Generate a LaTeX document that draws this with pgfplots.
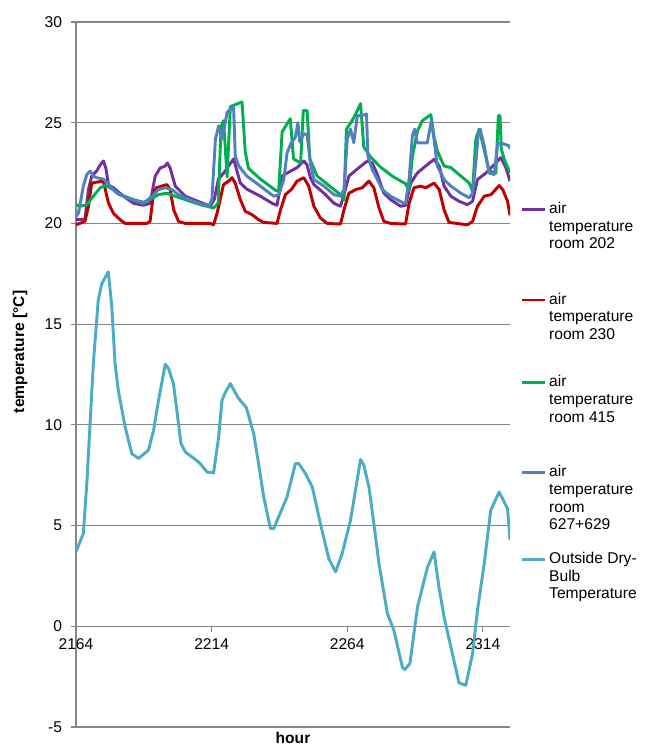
\documentclass[border=0pt]{standalone}
\usepackage{pgfplots}
\pgfplotsset{compat=1.18}
\usepackage{fontspec}
\setmainfont{Liberation Sans}

\definecolor{cPurple}{HTML}{7030A0}
\definecolor{cRed}{HTML}{C00000}
\definecolor{cGreen}{HTML}{00B050}
\definecolor{cBlue}{HTML}{4F81BD}
\definecolor{cAqua}{HTML}{4BACC6}
\definecolor{cGrid}{HTML}{868686}

\newcommand{\lfont}{\fontsize{11.7}{13.3}\selectfont}
% legend text: baseline on the first line, extra room above it
\newcommand{\lentry}[2]{\begin{tabular}[t]{@{}l@{}}\rule{0pt}{#2}#1\end{tabular}}

\begin{document}
\begin{tikzpicture}
\begin{axis}[
    name=main,
    at={(0,0)}, anchor=south west,
    scale only axis,
    width=325.5pt, height=528.75pt,
    xmin=2164, xmax=2324,
    ymin=-5, ymax=30,
    xtick={2164,2214,2264,2314},
    ytick={-5,0,5,10,15,20,25,30},
    axis x line=middle,
    axis y line=left,
    axis line style={-, cGrid, line width=0.8pt},
    hide obscured x ticks=false,
    hide obscured y ticks=false,
    tick align=outside,
    major tick length=4pt,
    tick style={cGrid, line width=0.8pt},
    ymajorgrids=true,
    grid style={cGrid, line width=0.8pt},
    /pgf/number format/assume math mode=true,
    /pgf/number format/1000 sep={},
    ticklabel style={font=\lfont},
    yticklabel style={xshift=-3pt},
    xticklabel style={yshift=-2pt},
    xlabel={\textbf{hour}},
    ylabel={\textbf{temperature [°C]}},
    label style={font=\lfont},
    xlabel style={at={(axis description cs:0.5,0)}, anchor=base, yshift=-12.5pt},
    ylabel style={at={(axis description cs:-0.129,0.532)}, anchor=center},
    legend style={draw=none, fill=none, at={(axis description cs:1,1)}, anchor=north west,
        xshift=8pt, yshift=-132pt, font=\lfont, inner sep=0pt,
        cells={anchor=base west}, row sep=12pt},
    legend image code/.code={\draw[#1, line width=2.2pt] (0pt,0.3em) -- (17pt,0.3em);},
    every axis plot/.append style={line width=2.2pt, line join=round, no marks},
]
\addplot[cPurple] coordinates {
(2164,20.2) (2167.3,20.2) (2168.6,21.7) (2169.8,22.35) (2171.6,22.6) (2172.9,22.9)
(2174.1,23.1) (2175,22.75) (2176,21.9) (2177.8,21.77) (2181.5,21.35) (2185.2,21.0)
(2188.9,20.9) (2191.3,21.0) (2193.2,22.35) (2195,22.75) (2196.9,22.85) (2197.7,23.0)
(2198.7,22.75) (2200.6,21.85) (2204.3,21.35) (2213.5,20.85) (2215,21.2) (2216.5,22.2)
(2218.4,22.5) (2222.1,23.2) (2224.6,22.0) (2227,21.7) (2232,21.35) (2236.3,21.0)
(2238.1,20.9) (2240,22.35) (2241.8,22.5) (2245.5,22.77) (2248,23.1) (2249.2,22.9)
(2250.4,22.27) (2251.7,21.93) (2255.4,21.5) (2259.1,21.0) (2261.5,20.85) (2262.8,21.43)
(2264.6,22.35) (2267.7,22.7) (2271.4,23.1) (2273.2,23.0) (2275.1,22.43) (2277.5,21.5)
(2280,21.18) (2283.7,20.85) (2285.5,20.9) (2287.4,22.0) (2289.8,22.5) (2292.9,22.85)
(2296,23.18) (2297.9,22.85) (2299.7,21.85) (2302.2,21.35) (2305.2,21.1) (2308.3,20.93)
(2310.2,21.1) (2312,22.18) (2315.1,22.5) (2318.8,23.0) (2320.6,23.27) (2322.5,22.77)
(2324,22.1)
};
\addlegendentry{\lentry{air\\temperature\\room 202}{0pt}}
\addplot[cRed] coordinates {
(2164,19.93) (2167.3,20.1) (2168.6,20.85) (2169.8,22.0) (2171.6,22.05) (2174.1,22.1)
(2175.1,21.5) (2176,21.0) (2177.8,20.5) (2180.3,20.18) (2182.1,20.0) (2190.1,20.0)
(2191.3,20.1) (2192.6,21.5) (2193.6,21.77) (2195.6,21.85) (2197.5,21.93) (2198.7,21.68)
(2200,20.68) (2201.8,20.1) (2204.3,20.0) (2213.5,20.0) (2214.7,19.93) (2216,20.5)
(2218.4,21.93) (2220.3,22.1) (2221.5,22.27) (2222.7,22.0) (2224.6,21.18) (2226.4,20.6)
(2228.9,20.43) (2231.4,20.18) (2233.2,20.05) (2238.1,20.0) (2239.4,20.68) (2241.2,21.43)
(2243.5,21.7) (2245.5,22.1) (2248,22.27) (2249.8,21.85) (2251.7,20.85) (2254.1,20.27)
(2256.6,20.0) (2261.5,19.97) (2262.8,20.68) (2264.6,21.5) (2267.1,21.68) (2269.5,21.77)
(2272,22.1) (2273.8,21.77) (2275.7,20.77) (2277.5,20.1) (2280,20.0) (2285.5,19.97)
(2286.8,21.0) (2288.6,21.77) (2291.1,21.85) (2292.9,21.77) (2296,22.0) (2297.9,21.68)
(2299.7,20.68) (2301.5,20.05) (2308.3,19.93) (2310.2,20.1) (2312,20.85) (2314.5,21.35)
(2317,21.43) (2320,21.88) (2321.3,21.68) (2323.1,21.1) (2324,20.4)
};
\addlegendentry{\lentry{air\\temperature\\room 230}{50.5pt}}
\addplot[cGreen] coordinates {
(2164,20.93) (2165.5,20.85) (2168,20.93) (2170.4,21.35) (2172.9,21.77) (2174.7,21.88)
(2176.6,21.77) (2180.3,21.43) (2185.2,21.18) (2188.9,21.05) (2191.3,21.18) (2194.4,21.43)
(2197.5,21.5) (2200.6,21.35) (2204.3,21.18) (2209.8,20.93) (2214.7,20.77) (2216.4,21.0)
(2217.5,24.8) (2218.4,25.1) (2219.7,22.3) (2220.9,25.8) (2225.2,26.03) (2226.4,23.55)
(2227.6,22.73) (2232,22.2) (2237.5,21.65) (2238.7,21.6) (2240,24.55) (2243,25.2)
(2244.2,23.2) (2246.8,23.0) (2247.8,25.6) (2249.2,25.6) (2250.2,23.2) (2252.9,22.35)
(2261.5,21.43) (2262.8,21.18) (2263.7,24.68) (2265.8,25.1) (2267.7,25.6) (2268.9,25.95)
(2270.1,23.8) (2272.6,23.3) (2276.2,22.8) (2281.1,22.3) (2285.4,21.98) (2286.8,21.65)
(2288,23.3) (2289.9,24.6) (2291.7,25.1) (2294.8,25.4) (2296,24.3) (2297.2,23.6)
(2299.7,22.85) (2302.2,22.77) (2305.9,22.35) (2309,22.0) (2310.2,21.6) (2311.4,24.18)
(2312.6,24.68) (2313.9,24.0) (2316.3,22.6) (2318.8,22.5) (2319.7,25.35) (2320.3,25.35)
(2320.8,23.68) (2321.9,23.18) (2324,22.5)
};
\addlegendentry{\lentry{air\\temperature\\room 415}{44.6pt}}
\addplot[cBlue] coordinates {
(2164,20.35) (2164.9,20.5) (2166.7,21.85) (2168,22.43) (2169.2,22.6) (2170.4,22.35)
(2171.6,22.27) (2174.1,22.2) (2176,21.93) (2179,21.5) (2182.7,21.27) (2186.4,21.1)
(2188.9,21.0) (2192,21.35) (2194.4,21.68) (2196.9,21.77) (2199.3,21.68) (2201.8,21.43)
(2204.3,21.27) (2207.3,21.1) (2212.9,20.85) (2214.1,21.18) (2215.4,24.18) (2216.6,24.85)
(2217.8,24.18) (2219,25.0) (2219.7,25.5) (2220.9,25.68) (2222.1,25.77) (2222.7,23.35)
(2224,22.85) (2227,22.35) (2232,21.85) (2236.9,21.35) (2238.8,21.43) (2240.6,22.18)
(2241.8,23.5) (2243.1,23.93) (2244.9,24.3) (2245.8,25.0) (2246.5,24.05) (2248,24.46)
(2249.2,24.4) (2250.4,23.0) (2251.7,22.18) (2255.4,21.85) (2259.1,21.43) (2261.5,21.35)
(2262.8,21.68) (2264,24.18) (2265.2,24.68) (2266.4,24.0) (2267.7,25.35) (2269.5,25.35)
(2271.1,25.43) (2271.6,23.35) (2273.2,22.68) (2275.1,22.18) (2276.9,21.68) (2280,21.35)
(2284.9,21.0) (2285.5,21.0) (2286.8,22.18) (2288,24.35) (2288.9,24.68) (2289.8,24.0)
(2293.5,24.0) (2295,25.1) (2296,24.18) (2297.2,22.85) (2299.7,22.18) (2302.2,21.85)
(2305.9,21.5) (2309,21.27) (2310.2,21.5) (2311.4,23.0) (2312.3,24.5) (2313,24.68)
(2314.5,23.85) (2316.3,22.5) (2318.2,22.43) (2319.4,23.93) (2320.6,24.0) (2323.7,23.85)
(2324,23.7)
};
\addlegendentry{\lentry{air\\temperature\\room\\627+629}{49.8pt}}
\addplot[cAqua] coordinates {
(2164,3.7) (2166.7,4.6) (2168,7.1) (2169.2,10.1) (2170.4,13.05) (2172.2,16.2)
(2173.5,17.0) (2175.9,17.6) (2177.2,15.85) (2178.4,13.05) (2179.6,11.7) (2182.1,9.9)
(2184.6,8.57) (2187,8.33) (2190.7,8.74) (2192.6,9.73) (2194.4,11.2) (2196.9,13.0)
(2198.1,12.8) (2199.9,12.05) (2201.2,10.7) (2202.7,9.07) (2204.3,8.65) (2208,8.28)
(2209.8,8.08) (2212.3,7.66) (2214.7,7.61) (2216.6,9.4) (2217.8,11.2) (2219,11.6)
(2220.9,12.05) (2222.7,11.6) (2224,11.3) (2226.8,10.86) (2229.5,9.57) (2231.3,8.08)
(2233.2,6.42) (2235.7,4.85) (2236.9,4.85) (2238.7,5.43) (2241.8,6.42) (2244.9,8.08)
(2246.1,8.08) (2248.6,7.58) (2251.1,6.92) (2254.1,5.1) (2257.2,3.36) (2259.7,2.7)
(2262.1,3.6) (2265.2,5.26) (2268.9,8.28) (2270.1,8.0) (2272,6.92) (2273.8,5.1)
(2275.7,3.11) (2278.8,0.63) (2281.2,-0.2) (2284.3,-2.02) (2285.2,-2.15) (2287.1,-1.85)
(2289.9,0.96) (2293.6,2.94) (2296,3.69) (2297.8,1.95) (2299.7,0.46) (2302.2,-1.03)
(2305.2,-2.81) (2307.7,-2.93) (2310.2,-1.36) (2312,0.79) (2314.5,3.11) (2316.9,5.76)
(2320,6.67) (2323.1,5.84) (2324,4.3)
};
\addlegendentry{\lentry{Outside Dry-\\Bulb\\Temperature}{47.6pt}}
\end{axis}
\pgfresetboundingbox
\path[use as bounding box] (-57pt,-13.5pt) rectangle (426pt,545.25pt);
\end{tikzpicture}
\end{document}
